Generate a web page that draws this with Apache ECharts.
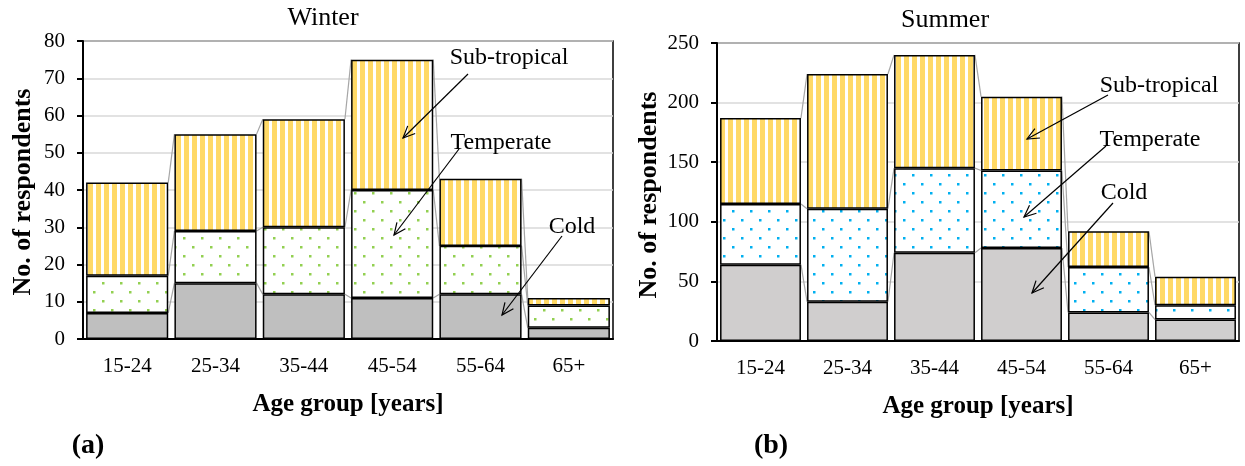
<!DOCTYPE html>
<html>
<head>
<meta charset="utf-8">
<script src="https://cdn.jsdelivr.net/npm/echarts@6/dist/echarts.min.js"></script>
<style>html,body{margin:0;padding:0;background:#fff}#c{width:1245px;height:466px}</style>
</head>
<body>
<div id="c"></div>
<script>
// ---- data ----
const categories = ['15-24', '25-34', '35-44', '45-54', '55-64', '65+'];
const winterCold = [7, 15, 12, 11, 12, 3];
const winterTemperate = [10, 14, 18, 29, 13, 6];
const winterSubtropical = [25, 26, 29, 35, 18, 2];
const summerCold = [64, 33, 74, 78, 24, 18];
const summerTemperate = [51, 78, 71, 65, 38, 12];
const summerSubtropical = [72, 113, 95, 62, 30, 24];
const winterAxis = { min: 0, max: 80, interval: 10 };
const summerAxis = { min: 0, max: 250, interval: 50 };
const seriesNames = ['Cold', 'Temperate', 'Sub-tropical'];

// ---- patterns ----
function stripePattern(color) {
  const c = document.createElement('canvas'); c.width = 8; c.height = 8;
  const g = c.getContext('2d');
  g.fillStyle = '#fff'; g.fillRect(0, 0, 8, 8);
  g.fillStyle = color; g.fillRect(0, 0, 5, 8);
  return { image: c, repeat: 'repeat' };
}
function dotPattern(color) {
  const c = document.createElement('canvas'); c.width = 18; c.height = 18;
  const g = c.getContext('2d');
  g.fillStyle = '#fff'; g.fillRect(0, 0, 18, 18);
  g.fillStyle = color;
  [[4, 4], [13, 13]].forEach(p => { g.fillRect(p[0] - 1, p[1] - 1, 2.5, 2.5); });
  return { image: c, repeat: 'repeat' };
}
const yellowStripe = stripePattern('#FFD966');
const greenDots = dotPattern('#92D050');
const blueDots = dotPattern('#00B0F0');

const FONT = "'Liberation Serif', 'Times New Roman', serif";
const GAP = 0.07;

function cumulative(arrs) {
  const out = []; let run = categories.map(() => 0);
  arrs.forEach(a => { run = run.map((v, i) => v + a[i]); out.push(run.slice()); });
  return out;
}

function seriesLines(gridIdx, arrs) {
  const cums = cumulative(arrs);
  return {
    type: 'custom', xAxisIndex: gridIdx, yAxisIndex: gridIdx, z: 1, silent: true,
    data: categories.slice(0, -1).map((c, i) => [i]),
    renderItem: function (params, api) {
      const i = api.value(0);
      const band = api.size([1, 0])[0];
      const half = band * (1 - GAP) / 2;
      const children = cums.map(cum => {
        const a = api.coord([i, cum[i]]);
        const b = api.coord([i + 1, cum[i + 1]]);
        return { type: 'line', shape: { x1: a[0] + half, y1: a[1], x2: b[0] - half, y2: b[1] },
          style: { stroke: '#A6A6A6', lineWidth: 1.2 } };
      });
      return { type: 'group', children: children };
    }
  };
}

function barSeries(gridIdx, stack, arrs, fills) {
  return arrs.map((a, k) => ({
    name: seriesNames[k], type: 'bar', stack: stack, xAxisIndex: gridIdx, yAxisIndex: gridIdx,
    barCategoryGap: (GAP * 100) + '%', z: 2,
    itemStyle: { color: fills[k], borderColor: '#000', borderWidth: 1.5 },
    data: a
  }));
}

function xAxis(gridIdx) {
  return {
    type: 'category', gridIndex: gridIdx, data: categories,
    name: 'Age group [years]', nameLocation: 'middle', nameGap: 53,
    nameTextStyle: { color: '#000', fontFamily: FONT, fontSize: 25, fontWeight: 'bold' },
    axisLine: { lineStyle: { color: '#000', width: 2 } },
    axisTick: { show: false },
    axisLabel: { color: '#000', fontFamily: FONT, fontSize: 21, margin: 17 }
  };
}
function yAxis(gridIdx, ax) {
  return {
    type: 'value', gridIndex: gridIdx, min: ax.min, max: ax.max, interval: ax.interval,
    axisLine: { show: true, lineStyle: { color: '#000', width: 2 } },
    axisTick: { show: true, length: 6, lineStyle: { color: '#000', width: 2 } },
    splitLine: { lineStyle: { color: '#D9D9D9', width: 1.5 } },
    axisLabel: { color: '#000', fontFamily: FONT, fontSize: 21, margin: 18 }
  };
}

function arrow(x1, y1, x2, y2) {
  const ang = Math.atan2(y2 - y1, x2 - x1);
  const L = 13, spread = 0.42;
  const p1 = [x2 - L * Math.cos(ang - spread), y2 - L * Math.sin(ang - spread)];
  const p2 = [x2 - L * Math.cos(ang + spread), y2 - L * Math.sin(ang + spread)];
  return [
    { type: 'line', shape: { x1: x1, y1: y1, x2: x2, y2: y2 }, style: { stroke: '#000', lineWidth: 1.2 }, z: 10 },
    { type: 'polyline', shape: { points: [p1, [x2, y2], p2] }, style: { stroke: '#000', lineWidth: 1.2, fill: null }, z: 10 }
  ];
}
function txt(x, y, s, size, bold, rot) {
  return { type: 'text', x: x, y: y, rotation: rot || 0, z: 10,
    style: { text: s, fill: '#000', font: (bold ? 'bold ' : '') + size + 'px ' + FONT, textAlign: 'center', textVerticalAlign: 'middle' } };
}

const graphics = [].concat(
  txt(323, 18, 'Winter', 26, false),
  txt(945, 20, 'Summer', 26, false),
  txt(23, 192, 'No. of respondents', 26, true, Math.PI / 2),
  txt(649, 195, 'No. of respondents', 26, true, Math.PI / 2),
  txt(88, 446, '(a)', 28, true),
  txt(771, 446, '(b)', 28, true),
  txt(509, 58, 'Sub-tropical', 24, false),
  txt(501, 143, 'Temperate', 24, false),
  txt(572, 227, 'Cold', 24, false),
  arrow(468, 74, 403, 138),
  arrow(459, 149, 394, 235),
  arrow(562, 236, 502, 315),
  txt(1159, 86, 'Sub-tropical', 24, false),
  txt(1150, 140, 'Temperate', 24, false),
  txt(1124, 193, 'Cold', 24, false),
  arrow(1108, 95, 1027, 139),
  arrow(1106, 146, 1024, 217),
  arrow(1113, 203, 1032, 293)
);

const chart = echarts.init(document.getElementById('c'), null, { renderer: 'canvas' });
chart.setOption({
  animation: false,
  backgroundColor: '#fff',
  grid: [
    { left: 83, top: 41, width: 530, height: 298, show: true, borderColor: '#000', borderWidth: 1.5, backgroundColor: 'transparent' },
    { left: 717, top: 43, width: 522, height: 298, show: true, borderColor: '#000', borderWidth: 1.5, backgroundColor: 'transparent' }
  ],
  xAxis: [xAxis(0), xAxis(1)],
  yAxis: [yAxis(0, winterAxis), yAxis(1, summerAxis)],
  series: [].concat(
    barSeries(0, 'w', [winterCold, winterTemperate, winterSubtropical], ['#BFBFBF', greenDots, yellowStripe]),
    barSeries(1, 's', [summerCold, summerTemperate, summerSubtropical], ['#D0CECE', blueDots, yellowStripe]),
    [seriesLines(0, [winterCold, winterTemperate, winterSubtropical]),
     seriesLines(1, [summerCold, summerTemperate, summerSubtropical])]
  ),
  graphic: graphics
});
</script>
</body>
</html>
